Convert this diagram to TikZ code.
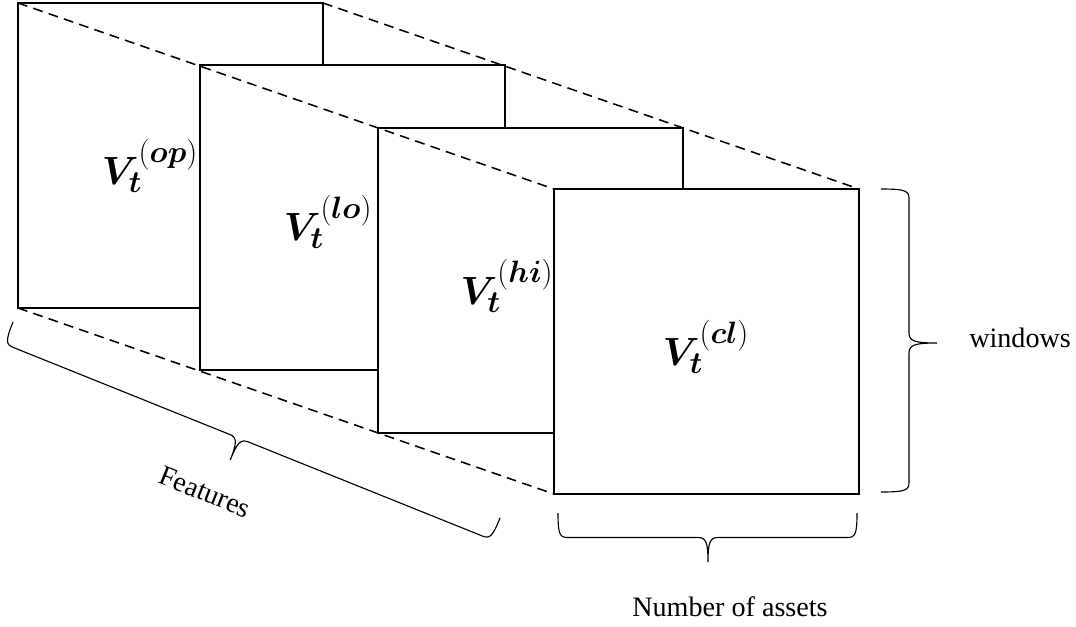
\RequirePackage{fix-cm}
\documentclass[tikz,border=0pt]{standalone}
\usepackage{bm}
\usepackage{fontspec}
\setmainfont{Liberation Serif}
\usetikzlibrary{calc}
\DeclareMathSizes{28}{28}{22}{16}

% brace along local x: length, tip position, amplitude
\newcommand{\curlybrace}[3]{%
  \draw[bracket] (0,0) .. controls (0,.45*#3) and (2,.5*#3) .. (10,.5*#3)
    -- (#2-10,.5*#3) .. controls (#2-2,.5*#3) and (#2,.6*#3) .. (#2,#3)
    .. controls (#2,.6*#3) and (#2+2,.5*#3) .. (#2+10,.5*#3)
    -- (#1-10,.5*#3) .. controls (#1-2,.5*#3) and (#1,.45*#3) .. (#1,0);}
% bold matrix label
\newcommand{\vmat}[1]{$\bm{V}_{\bm{t}}^{(\bm{#1})}$}

\begin{document}
\begin{tikzpicture}[x=.025cm,y=-.025cm,
  sheet/.style={draw,line width=1.8pt,fill=white},
  guide/.style={line width=1.1pt,dash pattern=on 7pt off 4.5pt},
  bracket/.style={line width=.8pt},
  lbl/.style={font=\fontsize{20}{24}\selectfont,inner sep=0pt},
  mat/.style={font=\fontsize{28}{32}\selectfont,inner sep=0pt}]
  \useasboundingbox (0,0) rectangle (1076,626);

  % stacked price matrices
  \foreach \x/\y [count=\i] in {18/3,200/65,378/128,554/189}{
    \draw[sheet] (\x,\y) rectangle ++(305,305);
    \coordinate (tl\i) at (\x,\y);
    \coordinate (tr\i) at (\x+305,\y);
    \coordinate (bl\i) at (\x,\y+305);
  }
  \draw[guide] (tl1) -- (tl4);
  \draw[guide] (tr1) -- (tr4);
  \draw[guide] (bl1) -- (bl4);

  \node[mat] (op) at (150,166) {\vmat{op}};
  \node[mat] (lo) at (328,222) {\vmat{lo}};
  \node[mat] (hi) at (507,286) {\vmat{hi}};
  \node[mat] (cl) at (706,347) {\vmat{cl}};

  % braces
  \begin{scope}[shift={(881,189)},rotate=-90]
    \curlybrace{303}{154}{-56}
  \end{scope}
  \node[lbl,anchor=base west] (win) at (969,347) {windows};

  \begin{scope}[shift={(558,513)}]
    \curlybrace{299}{150}{49}
  \end{scope}
  \node[lbl,anchor=base] (assets) at (730,616) {Number of assets};

  \begin{scope}[shift={(13,322)},rotate=-21.9]
    \curlybrace{525}{253}{47}
  \end{scope}
  \node[lbl,rotate=-21.9] (feat) at (205,492) {Features};
\end{tikzpicture}
\end{document}
